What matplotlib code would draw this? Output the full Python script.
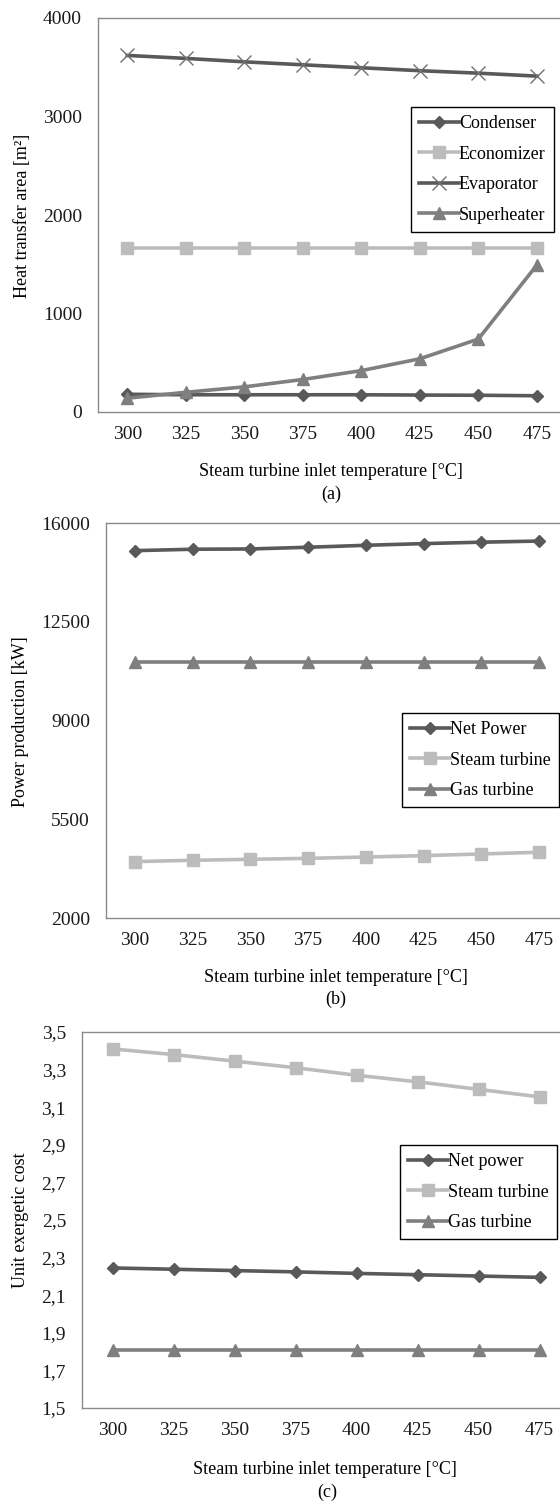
import matplotlib
matplotlib.use("Agg")
import matplotlib.pyplot as plt

plt.rcParams['font.family'] = ['Liberation Serif', 'DejaVu Serif']

temps = [300, 325, 350, 375, 400, 425, 450, 475]

# (a) heat transfer area [m2]
condenser = [180, 175, 175, 175, 175, 172, 170, 165]
economizer = [1665, 1665, 1665, 1665, 1665, 1665, 1665, 1665]
evaporator = [3620, 3590, 3555, 3525, 3495, 3465, 3440, 3410]
superheater = [140, 200, 255, 330, 420, 540, 740, 1490]

# (b) power production [kW]
net_power_kw = [15020, 15070, 15080, 15140, 15210, 15270, 15320, 15360]
steam_kw = [4000, 4045, 4080, 4115, 4160, 4210, 4270, 4330]
gas_kw = [11080, 11080, 11080, 11080, 11080, 11080, 11080, 11080]

# (c) unit exergetic cost
net_cost = [2.245, 2.238, 2.231, 2.224, 2.216, 2.209, 2.202, 2.195]
steam_cost = [3.41, 3.38, 3.345, 3.31, 3.27, 3.235, 3.195, 3.155]
gas_cost = [1.81, 1.81, 1.81, 1.81, 1.81, 1.81, 1.81, 1.81]

dark = '#595959'
light = '#bcbcbc'
mid = '#7f7f7f'
xlabel = 'Steam turbine inlet temperature [°C]'

W, H = 560, 1502
fig = plt.figure(figsize=(W / 100, H / 100), dpi=100)


def px_axes(left, right, top, bottom):
    return fig.add_axes([left / W, 1 - bottom / H, (right - left) / W, (bottom - top) / H])


def style(ax, yticks, ylabels):
    ax.set_xlim(287.5, 487.5)
    ax.set_xticks(temps)
    ax.set_xticklabels([str(t) for t in temps])
    ax.set_ylim(yticks[0], yticks[-1])
    ax.set_yticks(yticks)
    ax.set_yticklabels(ylabels)
    ax.tick_params(length=0, labelsize=14, colors='#1a1a1a')
    ax.tick_params(axis='y', pad=11.5)
    ax.tick_params(axis='x', pad=10)
    for s in ['left', 'bottom', 'top']:
        ax.spines[s].set_color('#8a8a8a')
        ax.spines[s].set_linewidth(1.0)
    ax.spines['right'].set_visible(False)


def legend(ax, x0, y0):
    ax.legend(loc='upper left', bbox_to_anchor=(x0 / W, 1 - y0 / H),
              bbox_transform=fig.transFigure, borderaxespad=0,
              fancybox=False, edgecolor='black', framealpha=1,
              fontsize=13, handlelength=2.2, handletextpad=0.0,
              labelspacing=0.75, borderpad=0.45)


def ftext(x, y, s, **kw):
    fig.text(x / W, 1 - y / H, s, ha='center', va='center', **kw)


lw = 2.6

# panel (a)
ax1 = px_axes(98, 566, 18, 412)
ax1.plot(temps, condenser, color=dark, lw=lw, marker='D', ms=6, label='Condenser')
ax1.plot(temps, economizer, color=light, lw=lw, marker='s', ms=9, label='Economizer')
ax1.plot(temps, evaporator, color=dark, lw=lw, marker='x', ms=10, mew=1,
         mec='#707070', label='Evaporator')
ax1.plot(temps, superheater, color=mid, lw=lw, marker='^', ms=9, label='Superheater')
style(ax1, [0, 1000, 2000, 3000, 4000], ['0', '1000', '2000', '3000', '4000'])
legend(ax1, 411, 107)
ftext(23, 216, 'Heat transfer area [m²]', rotation=90, fontsize=13)
ftext(331, 472, xlabel, fontsize=13)
ftext(331, 494, '(a)', fontsize=13)

# panel (b)
ax2 = px_axes(106, 568, 523, 918)
ax2.plot(temps, net_power_kw, color=dark, lw=lw, marker='D', ms=6, label='Net Power')
ax2.plot(temps, steam_kw, color=light, lw=lw, marker='s', ms=9, label='Steam turbine')
ax2.plot(temps, gas_kw, color=mid, lw=lw, marker='^', ms=9, label='Gas turbine')
style(ax2, [2000, 5500, 9000, 12500, 16000], ['2000', '5500', '9000', '12500', '16000'])
legend(ax2, 402, 713)
ftext(21, 722, 'Power production [kW]', rotation=90, fontsize=13)
ftext(336, 978, xlabel, fontsize=13)
ftext(336, 999, '(b)', fontsize=13)

# panel (c)
ax3 = px_axes(82, 570, 1032, 1408)
ax3.plot(temps, net_cost, color=dark, lw=lw, marker='D', ms=6, label='Net power')
ax3.plot(temps, steam_cost, color=light, lw=lw, marker='s', ms=9, label='Steam turbine')
ax3.plot(temps, gas_cost, color=mid, lw=lw, marker='^', ms=9, label='Gas turbine')
cticks = [1.5, 1.7, 1.9, 2.1, 2.3, 2.5, 2.7, 2.9, 3.1, 3.3, 3.5]
style(ax3, cticks, [f'{v:.1f}'.replace('.', ',') for v in cticks])
legend(ax3, 400, 1145)
ftext(21, 1220, 'Unit exergetic cost', rotation=90, fontsize=13)
ftext(325, 1470, xlabel, fontsize=13)
ftext(327, 1492, '(c)', fontsize=13)

fig.savefig('out.png', dpi=100)
